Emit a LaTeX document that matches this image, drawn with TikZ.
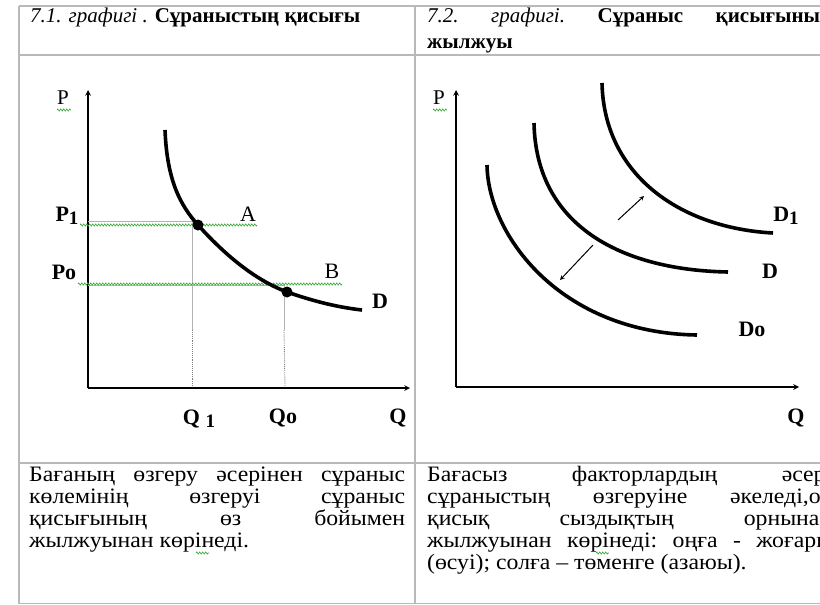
\documentclass[tikz,border=0pt]{standalone}
\usepackage{fontspec}
\setmainfont{Liberation Serif}
\newfontfamily\bodyfont[FakeStretch=1.08]{Liberation Serif}
\usetikzlibrary{decorations.pathmorphing}
\definecolor{gridgray}{RGB}{185,185,185}
\definecolor{spellgreen}{RGB}{60,170,60}
\tikzset{
  cellline/.style={draw=gridgray, line width=1.5pt},
  axis/.style={line width=1.5pt, ->},
  demand/.style={line width=3.6pt},
  guide/.style={draw=gray!60, line width=0.9pt},
  guidedot/.style={draw=gray, densely dotted, line width=0.9pt},
  spell/.style={draw=spellgreen, line width=0.6pt, decorate,
    decoration={zigzag, segment length=3pt, amplitude=1.1pt}},
  shiftarrow/.style={line width=1pt, ->},
  lab/.style={font=\fontsize{22}{26}\selectfont\bfseries, inner sep=0pt},
  axlab/.style={font=\fontsize{21}{24}\selectfont, inner sep=0pt},
  textline/.style={anchor=base west, inner sep=0pt, font=\bodyfont\fontsize{22}{24}\selectfont},
  titleline/.style={anchor=base west, inner sep=0pt, font=\fontsize{21}{24}\selectfont}
}
\newcommand{\lowone}{\raisebox{-3pt}{\fontsize{19}{19}\selectfont 1}}
\begin{document}
\begin{tikzpicture}[x=1pt, y=-1pt, >=stealth]
  \useasboundingbox (0,0) rectangle (820,605);
  \clip (0,0) rectangle (820,605);
  % table frame
  \coordinate (tl) at (19,6);      \coordinate (tr) at (820,6);
  \coordinate (hl) at (19,55);     \coordinate (hr) at (820,55);
  \coordinate (rl) at (19,463);    \coordinate (rr) at (820,463);
  \coordinate (bl) at (19,603.5);  \coordinate (br) at (820,603.5);
  \coordinate (mt) at (415,6);     \coordinate (mb) at (415,603.5);
  \draw[cellline] (tl) -- (tr);
  \draw[cellline] (hl) -- (hr);
  \draw[cellline] (rl) -- (rr);
  \draw[cellline] (bl) -- (br);
  \draw[cellline] (tl) -- (bl);
  \draw[cellline] (mt) -- (mb);

  % headings
  \node[titleline] (head1) at (30,23) {\textit{7.1. графигі .} \textbf{Сұраныстың қисығы}};
  \node[titleline] (head2a) at (427,23) {\hbox to 405pt{\textit{7.2.}\hfill\textit{графигі.}\hfill\textbf{Сұраныс}\hfill\textbf{қисығының}}};
  \node[titleline] (head2b) at (427,48) {\textbf{жылжуы}};

  % left graph: movement along the curve
  \coordinate (O1) at (88,388);
  \coordinate (Ptop1) at (88,90);
  \coordinate (Qend1) at (410,388);
  \draw[axis] (O1) -- (Ptop1);
  \draw[axis] (O1) -- (Qend1);
  \coordinate (A) at (198,225);
  \coordinate (B) at (287,292);
  \coordinate (p1l) at (88,221);   \coordinate (p1c) at (192,221);
  \coordinate (pol) at (88,285);   \coordinate (poc) at (284,285);
  \coordinate (q1m) at (192,330);  \coordinate (q1b) at (192,386);
  \coordinate (qom) at (284,330);  \coordinate (qob) at (285,386);
  \draw[guide] (p1l) -- (p1c) -- (q1m);
  \draw[guidedot] (q1m) -- (q1b);
  \draw[guide] (pol) -- (poc) -- (qom);
  \draw[guidedot] (qom) -- (qob);
  \draw[spell] (80,225) -- (257,225);
  \draw[spell] (78,284) -- (342,284);
  \draw[demand] (165,130) .. controls (167,180) and (180,205) .. (A)
    .. controls (225,255) and (255,280) .. (B)
    .. controls (310,300) and (335,307) .. (362,310);
  \fill (A) circle (5.5);
  \fill (B) circle (5.5);
  \node[axlab] (P1lab) at (63,98) {P};
  \draw[spell] (57,110) -- (71,110);
  \node[lab] (Plab1) at (67,216) {P\lowone};
  \node[lab] (Polab) at (64,272) {Po};
  \node[axlab, font=\fontsize{22}{26}\selectfont] (Alab) at (248,214) {A};
  \node[axlab, font=\fontsize{22}{26}\selectfont] (Blab) at (332,271) {B};
  \node[lab] (Dlab1) at (380,301) {D};
  \node[lab] (Q1lab) at (199,419) {Q \lowone};
  \node[lab] (Qolab) at (283,418) {Qo};
  \node[lab] (Qlab1) at (398,418) {Q};

  % right graph: shift of the curve
  \coordinate (O2) at (456,387);
  \coordinate (Ptop2) at (456,90);
  \coordinate (Qend2) at (799,387);
  \draw[axis] (O2) -- (Ptop2);
  \draw[axis] (O2) -- (Qend2);
  \draw[demand] (487,165) .. controls (488,235) and (560,333) .. (697,335);
  \draw[demand] (534,123) .. controls (536,225) and (620,270) .. (728,272);
  \draw[demand] (602,83) .. controls (604,175) and (680,228) .. (773,233);
  \coordinate (up0) at (618,220);  \coordinate (up1) at (644,196);
  \coordinate (dn0) at (593,245);  \coordinate (dn1) at (560,280);
  \draw[shiftarrow] (up0) -- (up1);
  \draw[shiftarrow] (dn0) -- (dn1);
  \node[axlab] (P2lab) at (439,98) {P};
  \draw[spell] (433,110) -- (447,110);
  \node[lab] (D1lab) at (786,216) {D\lowone};
  \node[lab] (Dlab2) at (770,271) {D};
  \node[lab] (Dolab) at (752,329) {Do};
  \node[lab] (Qlab2) at (796,418) {Q};

  % lower row
  \node[textline] (l1) at (29,481) {\hbox to 376pt{Бағаның\hfill өзгеру\hfill әсерінен\hfill сұраныс}};
  \node[textline] (l2) at (29,503) {\hbox to 376pt{көлемінің\hfill өзгеруі\hfill сұраныс}};
  \node[textline] (l3) at (29,525) {\hbox to 376pt{қисығының\hfill өз\hfill бойымен}};
  \node[textline] (l4) at (29,547) {жылжуынан көрінеді.};
  \draw[spell] (196,553) -- (209,553);
  \node[textline] (r1) at (427,481) {\hbox to 405pt{Бағасыз\hfill факторлардың\hfill әсері}};
  \node[textline] (r2) at (427,503) {\hbox to 405pt{сұраныстың\hfill өзгеруіне\hfill әкеледі,ол}};
  \node[textline] (r3) at (427,525) {\hbox to 405pt{қисық\hfill сыздықтың\hfill орнынан}};
  \node[textline] (r4) at (427,547) {\hbox to 405pt{жылжуынан\hfill көрінеді:\hfill оңға\hfill -\hfill жоғары}};
  \draw[spell] (596,553) -- (609,553);
  \node[textline] (r5) at (427,569) {(өсуі); солға – төменге (азаюы).};
\end{tikzpicture}
\end{document}
